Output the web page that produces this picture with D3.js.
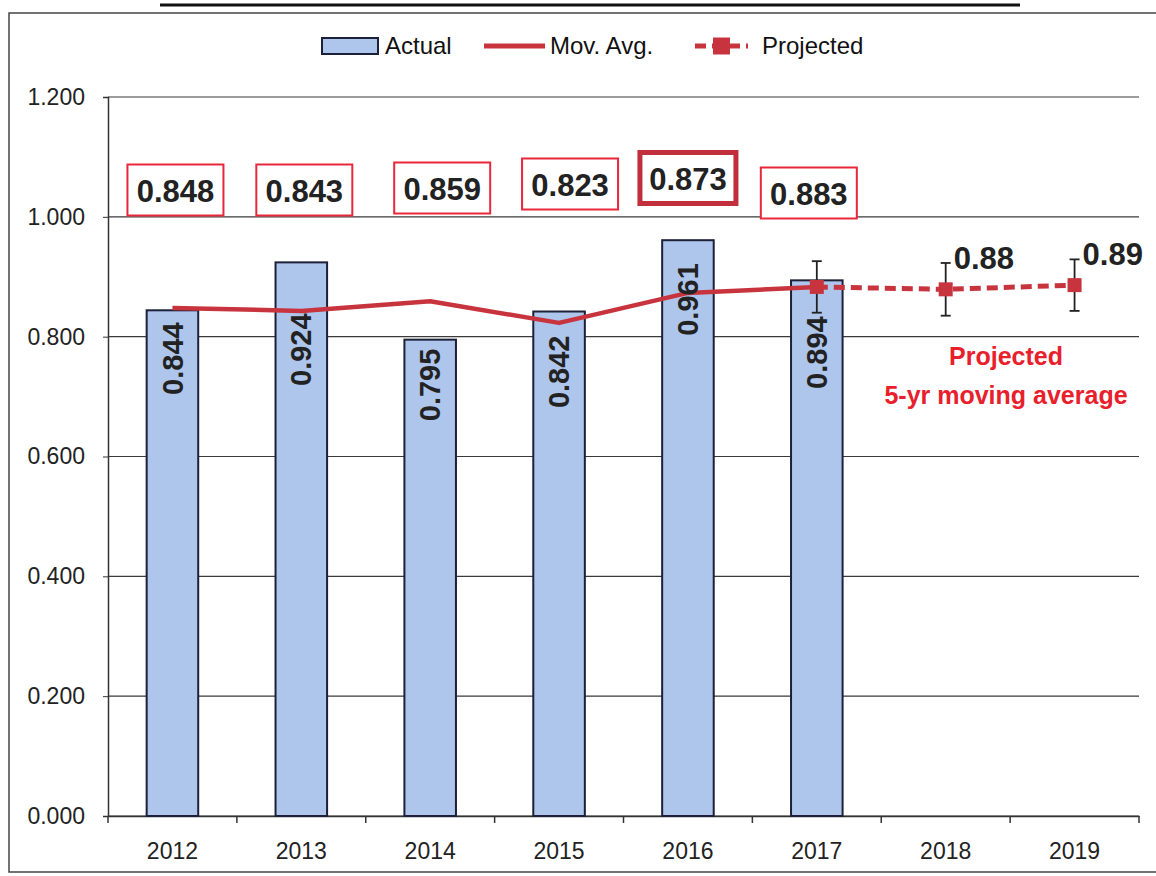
<!DOCTYPE html>
<html>
<head>
<meta charset="utf-8">
<script src="https://cdn.jsdelivr.net/npm/d3@7"></script>
<style>
  body { margin: 0; background: #fff; }
  svg { display: block; font-family: "Liberation Sans", Arial, sans-serif; }
</style>
</head>
<body>
<div id="chart"></div>
<script>
// Data
var years = ["2012", "2013", "2014", "2015", "2016", "2017", "2018", "2019"];
var actualYears = ["2012", "2013", "2014", "2015", "2016", "2017"];
var actual = [0.844, 0.924, 0.795, 0.842, 0.961, 0.894];
var movAvg = [0.848, 0.843, 0.859, 0.823, 0.873, 0.883];
var projYears = ["2017", "2018", "2019"];
var projected = [0.883, 0.879, 0.886];
var projError = [0.043, 0.044, 0.043];
var projLabels = ["", "0.88", "0.89"];
var yTicks = [0, 0.2, 0.4, 0.6, 0.8, 1.0, 1.2];

// small hand placement of the labels, as in the original sheet
var boxShiftX = [3, 3, 12, 11, 0, -8];
var boxShiftY = [0, 0, -2, -6, -12, 3];
var barLabelDrop = [12, 51, 9, 24, 23, 36];

var width = 1156, height = 876;
var red = "#c8343e";

var svg = d3.select("#chart").append("svg")
    .attr("width", width)
    .attr("height", height);

// Scales
var x = d3.scaleBand().domain(years).range([108, 1139]).paddingInner(0.6).paddingOuter(0.3);
var y = d3.scaleLinear().domain([0, 1.2]).range([816, 97]);
var cx = d => x(d) + x.bandwidth() / 2;

// Title underline (title itself is cut off at the top)
svg.append("line")
    .attr("x1", 160).attr("x2", 1020).attr("y1", 5).attr("y2", 5)
    .attr("stroke", "#111").attr("stroke-width", 3);

// Chart frame
svg.append("rect")
    .attr("x", 9).attr("y", 13).attr("width", 1160).attr("height", 859)
    .attr("fill", "none").attr("stroke", "#444").attr("stroke-width", 1.5);

// Gridlines
svg.append("g").selectAll("line")
    .data(yTicks)
    .enter().append("line")
    .attr("x1", 108).attr("x2", 1139)
    .attr("y1", d => y(d)).attr("y2", d => y(d))
    .attr("stroke", "#3a3a3a").attr("stroke-width", 1.2);

// Y axis
var yAxis = svg.append("g")
    .attr("transform", "translate(108,0)")
    .call(d3.axisLeft(y).tickValues(yTicks).tickFormat(d3.format(".3f")).tickSize(5).tickPadding(18));
yAxis.select(".domain").attr("stroke", "#333").attr("stroke-width", 1.5);
yAxis.selectAll(".tick line").attr("stroke", "#333");
yAxis.selectAll("text").attr("font-size", 23).attr("fill", "#222")
    .attr("font-family", "Liberation Sans, Arial, sans-serif");

// X axis: labels at band centres, ticks at band edges
var xAxis = svg.append("g")
    .attr("transform", "translate(0,816)")
    .call(d3.axisBottom(x).tickSize(0).tickPadding(27));
xAxis.select(".domain").attr("stroke", "#333").attr("stroke-width", 1.5);
xAxis.selectAll("text").attr("font-size", 23).attr("fill", "#222")
    .attr("font-family", "Liberation Sans, Arial, sans-serif");

svg.append("g").selectAll("line")
    .data(d3.range(years.length + 1))
    .enter().append("line")
    .attr("x1", i => x.range()[0] + i * x.step())
    .attr("x2", i => x.range()[0] + i * x.step())
    .attr("y1", 816).attr("y2", 823)
    .attr("stroke", "#333").attr("stroke-width", 1.5);

// Bars
svg.append("g").selectAll("rect")
    .data(actual)
    .enter().append("rect")
    .attr("x", (d, i) => x(actualYears[i]))
    .attr("y", d => y(d))
    .attr("width", x.bandwidth())
    .attr("height", d => y(0) - y(d))
    .attr("fill", "#aec5ec")
    .attr("stroke", "#1c2038")
    .attr("stroke-width", 2);

// Moving average line
var line = d3.line().x(d => cx(d.year)).y(d => y(d.value));
svg.append("path")
    .datum(movAvg.map((v, i) => ({ year: actualYears[i], value: v })))
    .attr("d", line)
    .attr("fill", "none")
    .attr("stroke", red)
    .attr("stroke-width", 4.5)
    .attr("stroke-linejoin", "round");

// Bar value labels, rotated
svg.append("g").selectAll("text")
    .data(actual)
    .enter().append("text")
    .attr("transform", (d, i) => `translate(${cx(actualYears[i])},${y(d) + barLabelDrop[i]}) rotate(-90)`)
    .attr("dy", "0.35em")
    .attr("text-anchor", "end")
    .attr("font-size", 29)
    .attr("font-weight", "bold")
    .attr("fill", "#222")
    .text(d => d3.format(".3f")(d));

// Projected: error bars, dashed line, markers
var proj = projected.map((v, i) => ({ year: projYears[i], value: v, err: projError[i], label: projLabels[i] }));

var err = svg.append("g").selectAll("g")
    .data(proj)
    .enter().append("g")
    .attr("stroke", "#222").attr("stroke-width", 1.8);
err.append("line")
    .attr("x1", d => cx(d.year)).attr("x2", d => cx(d.year))
    .attr("y1", d => y(d.value + d.err)).attr("y2", d => y(d.value - d.err));
err.append("line")
    .attr("x1", d => cx(d.year) - 5).attr("x2", d => cx(d.year) + 5)
    .attr("y1", d => y(d.value + d.err)).attr("y2", d => y(d.value + d.err));
err.append("line")
    .attr("x1", d => cx(d.year) - 5).attr("x2", d => cx(d.year) + 5)
    .attr("y1", d => y(d.value - d.err)).attr("y2", d => y(d.value - d.err));

svg.append("path")
    .datum(proj)
    .attr("d", line)
    .attr("fill", "none")
    .attr("stroke", red)
    .attr("stroke-width", 5)
    .attr("stroke-dasharray", "11,6");

svg.append("g").selectAll("rect")
    .data(proj)
    .enter().append("rect")
    .attr("x", d => cx(d.year) - 7)
    .attr("y", d => y(d.value) - 7)
    .attr("width", 14).attr("height", 14)
    .attr("fill", red);

svg.append("g").selectAll("text")
    .data(proj.filter(d => d.label))
    .enter().append("text")
    .attr("x", d => cx(d.year) + 8)
    .attr("y", d => y(d.value + d.err) + 6)
    .attr("font-size", 31)
    .attr("font-weight", "bold")
    .attr("fill", "#222")
    .text(d => d.label);

// Annotation
var note = svg.append("text")
    .attr("text-anchor", "middle")
    .attr("font-size", 25)
    .attr("font-weight", "bold")
    .attr("fill", "#e8202c");
note.append("tspan").attr("x", 1006).attr("y", 365).text("Projected");
note.append("tspan").attr("x", 1006).attr("y", 404).text("5-yr moving average");

// Boxed moving-average values
var boxes = svg.append("g").selectAll("g")
    .data(movAvg)
    .enter().append("g")
    .attr("transform", (d, i) => `translate(${cx(actualYears[i]) + boxShiftX[i]},${190 + boxShiftY[i]})`);
boxes.append("rect")
    .attr("x", -48).attr("y", -25.5)
    .attr("width", 96).attr("height", 51)
    .attr("fill", "#fff")
    .attr("stroke", (d, i) => i === 4 ? "#c22f3c" : "#e8283a")
    .attr("stroke-width", (d, i) => i === 4 ? 5 : 2);
boxes.append("text")
    .attr("text-anchor", "middle")
    .attr("y", 12)
    .attr("font-size", 31)
    .attr("font-weight", "bold")
    .attr("fill", "#222")
    .text(d => d3.format(".3f")(d));

// Legend
var legend = svg.append("g").attr("font-size", 24).attr("fill", "#111");
legend.append("rect")
    .attr("x", 322).attr("y", 38).attr("width", 56).attr("height", 16)
    .attr("fill", "#aec5ec").attr("stroke", "#1c2038").attr("stroke-width", 2);
legend.append("text").attr("x", 385).attr("y", 54).text("Actual");
legend.append("line")
    .attr("x1", 484).attr("x2", 545).attr("y1", 46).attr("y2", 46)
    .attr("stroke", red).attr("stroke-width", 5);
legend.append("text").attr("x", 550).attr("y", 54).text("Mov. Avg.");
legend.append("line")
    .attr("x1", 695).attr("x2", 748).attr("y1", 46).attr("y2", 46)
    .attr("stroke", red).attr("stroke-width", 5).attr("stroke-dasharray", "11,6");
legend.append("rect")
    .attr("x", 713).attr("y", 37.5).attr("width", 17).attr("height", 17)
    .attr("fill", red);
legend.append("text").attr("x", 762).attr("y", 54).text("Projected");
</script>
</body>
</html>
